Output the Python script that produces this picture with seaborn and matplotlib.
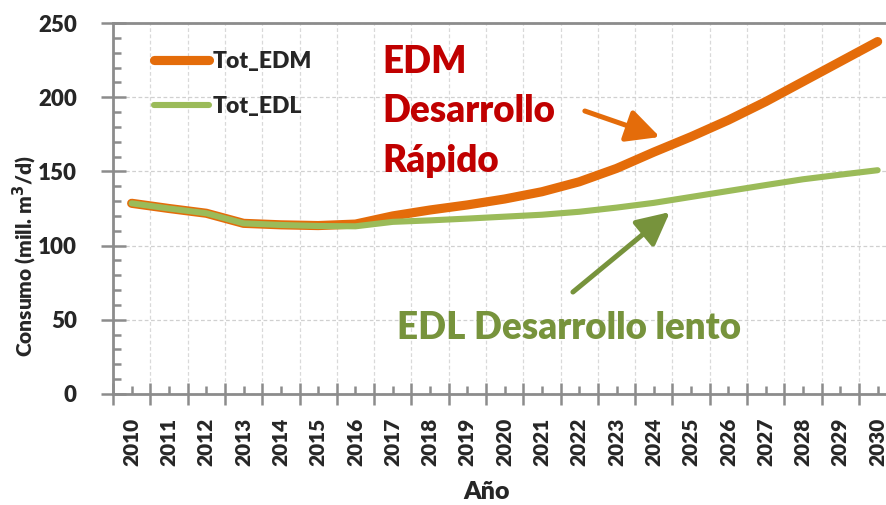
import matplotlib
matplotlib.use("Agg")
import matplotlib.pyplot as plt
from matplotlib.ticker import MultipleLocator, FixedLocator
import pandas as pd
import seaborn as sns

# Consumo total proyectado por escenario (mill. m3/d)
years = list(range(2010, 2031))
tot_edm = [128.5, 125.0, 121.8, 115.0, 114.0, 113.5, 114.5, 120.0, 124.0, 127.4,
           131.4, 136.3, 143.0, 152.0, 163.0, 173.4, 184.6, 197.0, 210.5, 224.0, 237.5]
tot_edl = [128.5, 125.0, 121.8, 115.0, 113.9, 113.2, 113.0, 116.0, 117.0, 118.2,
           119.5, 120.8, 122.8, 125.6, 128.8, 132.8, 136.8, 140.8, 144.7, 147.8, 150.8]
series_names = ["Tot_EDM", "Tot_EDL"]
series_colors = ["#E46C0A", "#9BBB59"]

sns.set_theme(style="white")
plt.rcParams["font.family"] = ["Lato", "DejaVu Sans"]
W = "heavy"
plt.rcParams["font.weight"] = W

grey = "#8C8C8C"

fig = plt.figure(figsize=(8.86, 5.05), dpi=100)
ax = fig.add_axes([113 / 886, 1 - 394 / 505, 783.3 / 886, 371 / 505])

pos = list(range(len(years)))
df_edm = pd.DataFrame({"pos": pos, "valor": tot_edm})
df_edl = pd.DataFrame({"pos": pos, "valor": tot_edl})

sns.lineplot(data=df_edm, x="pos", y="valor", ax=ax, color=series_colors[0],
             linewidth=6.6, label=series_names[0], solid_capstyle="round",
             solid_joinstyle="round")
sns.lineplot(data=df_edl, x="pos", y="valor", ax=ax, color=series_colors[1],
             linewidth=4.4, label=series_names[1], solid_capstyle="round",
             solid_joinstyle="round")

ax.set_xlim(-0.5, len(years) - 0.5)
ax.set_ylim(0, 250)

# eje X: etiquetas centradas en cada año, marcas largas entre categorías
ax.xaxis.set_major_locator(FixedLocator(pos))
ax.set_xticklabels([str(y) for y in years], rotation=90, fontsize=15, fontweight=W)
ax.xaxis.set_minor_locator(FixedLocator([p - 0.5 for p in pos] + [len(years) - 0.5]))
ax.tick_params(axis="x", which="major", direction="in", length=6, width=1.8,
               color=grey, pad=17, bottom=True)
ax.tick_params(axis="x", which="minor", direction="inout", length=16, width=1.8,
               color=grey, bottom=True)

# eje Y
ax.yaxis.set_major_locator(MultipleLocator(50))
ax.yaxis.set_minor_locator(MultipleLocator(10))
ax.tick_params(axis="y", which="major", direction="inout", length=18, width=1.8,
               color=grey, labelsize=16, pad=17, left=True)
ax.tick_params(axis="y", which="minor", direction="in", length=6, width=1.8,
               color=grey, left=True)
for lab in ax.get_yticklabels():
    lab.set_fontweight(W)

ax.grid(False)
ax.grid(axis="y", which="major", color="#D0D0D0", linestyle=(0, (3, 2)), linewidth=0.9)
ax.grid(axis="x", which="minor", color="#D9D9D9", linestyle=(0, (3, 2)), linewidth=0.9)

for sp in ax.spines.values():
    sp.set_color(grey)
    sp.set_linewidth(2)

ax.set_xlabel("Año", fontsize=18, fontweight=W)
ax.set_ylabel("Consumo (mill. m$^\\mathbf{3}$/d)", fontsize=15, fontweight=W)
ax.xaxis.label.set_va("center")
ax.yaxis.label.set_va("center")
ax.xaxis.set_label_coords(0.477, -0.264)
ax.yaxis.set_label_coords(-0.112, 0.37)

leg = ax.legend(loc="upper left", bbox_to_anchor=(0.052, 0.924), frameon=False,
                fontsize=16.5, handlelength=2.4, handletextpad=0.15,
                labelspacing=1.05, borderpad=0, borderaxespad=0)
for t in leg.get_texts():
    t.set_fontweight(W)

# rótulos de escenarios
for txt, yv in zip(["EDM", "Desarrollo", "Rápido"], [224.0, 190.7, 157.0]):
    ax.text(6.72, yv, txt, color="#C00000", fontsize=26.5, fontweight=W,
            ha="left", va="center")
ax.text(7.11, 44.5, "EDL Desarrollo lento", color="#77933C", fontsize=26.5,
        fontweight=W, ha="left", va="center")

ax.annotate("", xy=(14.16, 173.2), xytext=(12.15, 190.7),
            arrowprops=dict(arrowstyle="-|>,head_length=1.0,head_width=0.5",
                            color="#E46C0A", lw=3.6, shrinkA=0, shrinkB=0,
                            mutation_scale=20))
ax.annotate("", xy=(14.43, 122.6), xytext=(11.83, 68.7),
            arrowprops=dict(arrowstyle="-|>,head_length=1.0,head_width=0.5",
                            color="#77933C", lw=3.6, shrinkA=0, shrinkB=0,
                            mutation_scale=20))

fig.savefig("out.png", dpi=100, facecolor="white")
